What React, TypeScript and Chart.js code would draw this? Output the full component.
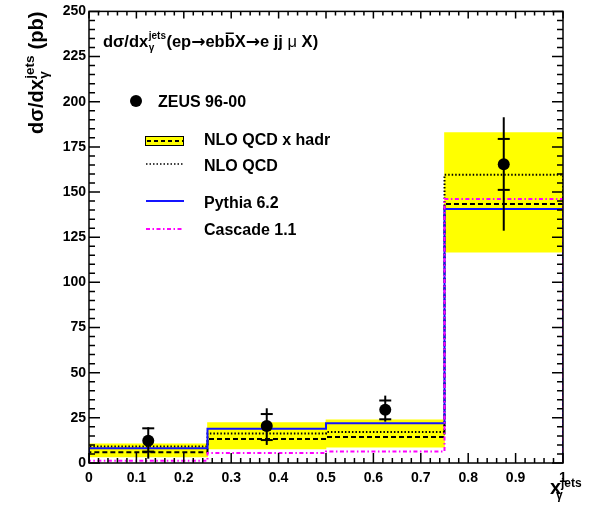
import { useEffect, useRef } from "react";
import { Chart, registerables } from "chart.js";

Chart.register(...registerables);

// Bin layout in x_gamma^jets
const binEdges = [0, 0.25, 0.5, 0.75, 1];
const binCenters = [0.125, 0.375, 0.625, 0.875];

// ZEUS 96-00 measurement (pb) with inner (stat) and outer (total) errors
const zeusValues = [12.3, 20.5, 29.5, 165.4];
const zeusStatUp = [6.9, 6.6, 5.1, 14.0];
const zeusStatDown = [6.0, 7.8, 5.3, 14.2];
const zeusTotalUp = [7.5, 9.8, 7.8, 26.0];
const zeusTotalDown = [9.9, 10.5, 6.6, 36.8];

// Predictions (pb)
const nloHadr = [5.9, 13.3, 14.4, 143.4];
const nloHadrLow = [3.3, 7.8, 8.8, 116.7];
const nloHadrHigh = [10.6, 22.4, 23.9, 182.9];
const nloQcd = [9.2, 16.4, 17.2, 159.6];
const pythia = [8.2, 19.0, 22.0, 140.6];
const cascade = [1.2, 5.6, 6.4, 146.2];

// Axis ticks
const xTickValues = [0, 0.1, 0.2, 0.3, 0.4, 0.5, 0.6, 0.7, 0.8, 0.9, 1];
const xTickLabels = ["0", "0.1", "0.2", "0.3", "0.4", "0.5", "0.6", "0.7", "0.8", "0.9", "1"];
const yTickValues = [0, 25, 50, 75, 100, 125, 150, 175, 200, 225, 250];
const yTickLabels = ["0", "25", "50", "75", "100", "125", "150", "175", "200", "225", "250"];

const FONT = "'Liberation Sans', Arial, Helvetica, sans-serif";
const BLUE = "#1414ff";
const MAGENTA = "#ff00ff";
const YELLOW = "#ffff00";

// Histogram outline: rises from zero at the first edge, steps across bins, drops at the last edge
function histOutline(values: number[]) {
  const pts: { x: number; y: number }[] = [{ x: binEdges[0], y: 0 }];
  values.forEach((v, i) => {
    pts.push({ x: binEdges[i], y: v });
    pts.push({ x: binEdges[i + 1], y: v });
  });
  pts.push({ x: binEdges[binEdges.length - 1], y: 0 });
  return pts;
}

const errorBarsPlugin = {
  id: "zeusErrorBars",
  afterDatasetsDraw(chart: any) {
    const { ctx } = chart;
    const xs = chart.scales.x;
    const ys = chart.scales.y;
    ctx.save();
    ctx.strokeStyle = "#000";
    ctx.lineWidth = 2;
    binCenters.forEach((c, i) => {
      const px = xs.getPixelForValue(c);
      const v = zeusValues[i];
      ctx.beginPath();
      ctx.moveTo(px, ys.getPixelForValue(v + zeusTotalUp[i]));
      ctx.lineTo(px, ys.getPixelForValue(v - zeusTotalDown[i]));
      ctx.stroke();
      [v + zeusStatUp[i], v - zeusStatDown[i]].forEach((t) => {
        const py = ys.getPixelForValue(t);
        ctx.beginPath();
        ctx.moveTo(px - 6, py);
        ctx.lineTo(px + 6, py);
        ctx.stroke();
      });
    });
    ctx.restore();
  },
};

const frameTicksPlugin = {
  id: "frameTicks",
  afterDraw(chart: any) {
    const { ctx, chartArea: a } = chart;
    const xs = chart.scales.x;
    const ys = chart.scales.y;
    ctx.save();
    ctx.strokeStyle = "#000";
    ctx.lineWidth = 1.5;
    ctx.strokeRect(a.left, a.top, a.right - a.left, a.bottom - a.top);
    // x ticks: majors every 0.1, minors every 0.02
    for (let k = 0; k <= 50; k++) {
      const v = k / 50;
      const px = xs.getPixelForValue(v);
      const major = k % 5 === 0;
      const lb = major ? 10 : 5;
      const lt = major ? 7 : 4;
      ctx.beginPath();
      ctx.moveTo(px, a.bottom);
      ctx.lineTo(px, a.bottom - lb);
      ctx.moveTo(px, a.top);
      ctx.lineTo(px, a.top + lt);
      ctx.stroke();
    }
    // y ticks: majors every 25, minors every 5
    for (let k = 0; k <= 50; k++) {
      const v = k * 5;
      const py = ys.getPixelForValue(v);
      const major = k % 5 === 0;
      const l = major ? 11 : 6;
      ctx.beginPath();
      ctx.moveTo(a.left, py);
      ctx.lineTo(a.left + l, py);
      ctx.moveTo(a.right, py);
      ctx.lineTo(a.right - l, py);
      ctx.stroke();
    }
    ctx.restore();
  },
};

const annotationsPlugin = {
  id: "annotations",
  afterDraw(chart: any) {
    const { ctx } = chart;
    ctx.save();
    ctx.fillStyle = "#000";
    ctx.textBaseline = "alphabetic";
    ctx.textAlign = "left";

    // Process label inside the frame
    let x = 103;
    const base = 47;
    ctx.font = `bold 16.5px ${FONT}`;
    ctx.fillText("d\u03c3/dx", x, base);
    x += ctx.measureText("d\u03c3/dx").width;
    ctx.font = `bold 10px ${FONT}`;
    ctx.fillText("jets", x + 0.5, base - 8);
    ctx.fillText("\u03b3", x + 0.5, base + 4);
    x += ctx.measureText("jets").width + 1;
    const seg = (t: string, font: string) => {
      ctx.font = font;
      ctx.fillText(t, x, base);
      const w = ctx.measureText(t).width;
      x += w;
      return w;
    };
    const bold = `bold 16.5px ${FONT}`;
    const arrowFont = `bold 17px 'DejaVu Sans', ${FONT}`;
    seg("(ep", bold);
    seg("\u2192", arrowFont);
    seg("eb", bold);
    const bx = x;
    const bw = seg("b", bold);
    ctx.fillRect(bx + 1, base - 14.5, bw - 2, 1.5);
    seg("X", bold);
    seg("\u2192", arrowFont);
    seg("e jj ", bold);
    seg("\u03bc", `16.5px ${FONT}`);
    seg(" X)", bold);

    // Legend
    ctx.font = `bold 16px ${FONT}`;
    ctx.beginPath();
    ctx.arc(136, 101, 6, 0, Math.PI * 2);
    ctx.fill();
    ctx.fillText("ZEUS 96-00", 158, 107);

    ctx.fillStyle = YELLOW;
    ctx.fillRect(145, 136, 39, 9);
    ctx.strokeStyle = "#000";
    ctx.lineWidth = 1;
    ctx.strokeRect(145.5, 136.5, 38, 9);
    ctx.lineWidth = 2;
    ctx.setLineDash([4, 3]);
    ctx.beginPath();
    ctx.moveTo(147, 141);
    ctx.lineTo(183, 141);
    ctx.stroke();
    ctx.fillStyle = "#000";
    ctx.fillText("NLO QCD x hadr", 204, 145);

    ctx.lineWidth = 1.5;
    ctx.setLineDash([1.5, 2]);
    ctx.beginPath();
    ctx.moveTo(146, 164);
    ctx.lineTo(184, 164);
    ctx.stroke();
    ctx.fillText("NLO QCD", 204, 171);

    ctx.setLineDash([]);
    ctx.lineWidth = 2;
    ctx.strokeStyle = BLUE;
    ctx.beginPath();
    ctx.moveTo(146, 201);
    ctx.lineTo(184, 201);
    ctx.stroke();
    ctx.fillText("Pythia 6.2", 204, 208);

    ctx.strokeStyle = MAGENTA;
    ctx.setLineDash([4, 2.5, 1.5, 2.5]);
    ctx.beginPath();
    ctx.moveTo(146, 229);
    ctx.lineTo(184, 229);
    ctx.stroke();
    ctx.setLineDash([]);
    ctx.fillText("Cascade 1.1", 204, 235);

    // y-axis title, reading upward
    ctx.save();
    ctx.translate(43, 134);
    ctx.rotate(-Math.PI / 2);
    let t = 0;
    ctx.font = `bold 20px ${FONT}`;
    ctx.fillText("d\u03c3/dx", t, 0);
    t += ctx.measureText("d\u03c3/dx").width;
    ctx.font = `bold 13.5px ${FONT}`;
    ctx.fillText("jets", t + 0.5, -9);
    ctx.fillText("\u03b3", t + 0.5, 5);
    t += ctx.measureText("jets").width + 1;
    ctx.font = `bold 20px ${FONT}`;
    ctx.fillText(" (pb)", t, 0);
    ctx.restore();

    // x-axis title
    ctx.font = `bold 20px ${FONT}`;
    ctx.fillText("x", 550, 494);
    ctx.font = `bold 12px ${FONT}`;
    ctx.fillText("jets", 561, 487);
    ctx.fillText("\u03b3", 556, 499);

    ctx.restore();
  },
};

export default function App() {
  const canvasRef = useRef<HTMLCanvasElement | null>(null);

  useEffect(() => {
    if (!canvasRef.current) return;
    Chart.defaults.font.family = FONT;
    Chart.defaults.color = "#000";

    const lineBase = {
      type: "line" as const,
      pointRadius: 0,
      borderWidth: 2,
      tension: 0,
      fill: false,
    };

    const chart = new Chart(canvasRef.current, {
      type: "line",
      data: {
        datasets: [
          {
            type: "line",
            label: "ZEUS 96-00",
            data: binCenters.map((c, i) => ({ x: c, y: zeusValues[i] })),
            showLine: false,
            pointRadius: 6,
            pointBackgroundColor: "#000",
            pointBorderColor: "#000",
            pointBorderWidth: 0,
            order: 0,
          },
          {
            ...lineBase,
            label: "Cascade 1.1",
            data: histOutline(cascade),
            borderColor: MAGENTA,
            borderDash: [4, 2.5, 1.5, 2.5],
            order: 1,
          },
          {
            ...lineBase,
            label: "Pythia 6.2",
            data: histOutline(pythia),
            borderColor: BLUE,
            order: 2,
          },
          {
            ...lineBase,
            label: "NLO QCD",
            data: histOutline(nloQcd),
            borderColor: "#000",
            borderWidth: 2,
            borderDash: [1.5, 2],
            order: 3,
          },
          {
            ...lineBase,
            label: "NLO QCD x hadr",
            data: histOutline(nloHadr),
            borderColor: "#000",
            borderDash: [5, 3],
            order: 4,
          },
          {
            // uncertainty band: one floating box per bin, spanning the full bin
            type: "bar",
            label: "NLO QCD x hadr band",
            data: binCenters.map((c, i) => ({ x: c, y: [nloHadrLow[i], nloHadrHigh[i]] })) as any,
            backgroundColor: YELLOW,
            borderWidth: 0,
            barThickness: "flex",
            barPercentage: 1,
            categoryPercentage: 1,
            order: 5,
          },
        ] as any,
      },
      options: {
        animation: false,
        responsive: true,
        maintainAspectRatio: false,
        devicePixelRatio: 1,
        layout: { padding: { left: 0, right: 27, top: 11, bottom: 0 } },
        plugins: {
          legend: { display: false },
          tooltip: { enabled: false },
        },
        scales: {
          x: {
            type: "linear",
            min: 0,
            max: 1,
            offset: false,
            grid: { display: false, drawTicks: false },
            border: { display: false },
            afterBuildTicks: (s: any) => {
              s.ticks = xTickValues.map((v) => ({ value: v }));
            },
            afterFit: (s: any) => {
              s.height = 53;
            },
            ticks: {
              autoSkip: false,
              maxRotation: 0,
              padding: 7,
              font: { size: 14, weight: "bold" },
              callback: (_v: any, i: number) => xTickLabels[i],
            },
          },
          y: {
            type: "linear",
            min: 0,
            max: 250,
            grid: { display: false, drawTicks: false },
            border: { display: false },
            afterBuildTicks: (s: any) => {
              s.ticks = yTickValues.map((v) => ({ value: v }));
            },
            afterFit: (s: any) => {
              s.width = 89;
            },
            ticks: {
              autoSkip: false,
              padding: 3,
              font: { size: 14, weight: "bold" },
              callback: (_v: any, i: number) => yTickLabels[i],
            },
          },
        },
      } as any,
      plugins: [errorBarsPlugin, frameTicksPlugin, annotationsPlugin],
    });

    return () => chart.destroy();
  }, []);

  return (
    <div style={{ position: "fixed", left: 0, top: 0, width: 590, height: 516, background: "#fff" }}>
      <canvas ref={canvasRef} style={{ display: "block" }} />
    </div>
  );
}
